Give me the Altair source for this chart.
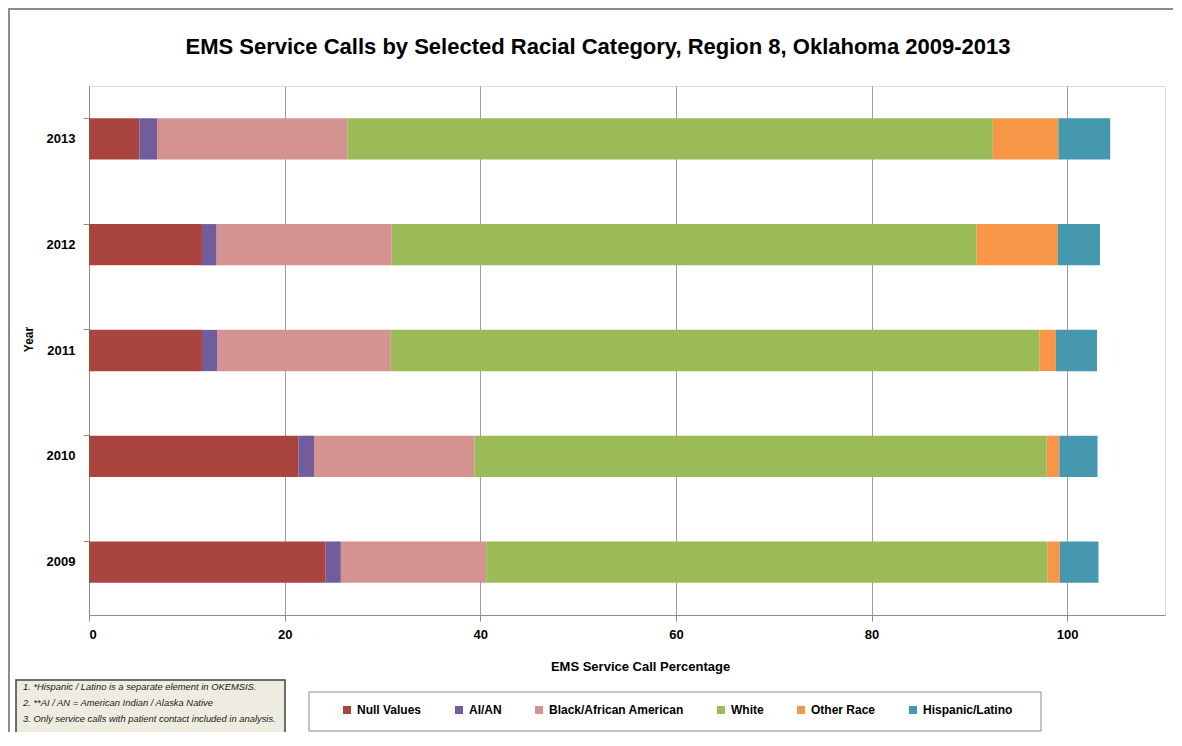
import altair as alt
import pandas as pd

# ---- data ----
years = ["2009", "2010", "2011", "2012", "2013"]
categories = ["Null Values", "AI/AN", "Black/African American", "White", "Other Race", "Hispanic/Latino"]
null_values = [24.2, 21.4, 11.55, 11.55, 5.15]
ai_an = [1.55, 1.6, 1.6, 1.5, 1.8]
black = [14.85, 16.4, 17.7, 17.9, 19.45]
white = [57.4, 58.5, 66.3, 59.8, 66.0]
other_race = [1.25, 1.3, 1.7, 8.3, 6.7]
hispanic = [3.95, 3.9, 4.2, 4.3, 5.3]
colors = ["#A9443F", "#715D9B", "#D49391", "#9BBB59", "#F79646", "#4598AE"]
x_ticks = [0, 20, 40, 60, 80, 100]
notes = [
    "1. *Hispanic / Latino is a separate element in OKEMSIS.",
    "2.  **AI / AN = American Indian / Alaska Native",
    "3.  Only service calls with patient contact included in analysis.",
]
title_text = "EMS Service Calls by Selected Racial Category, Region 8, Oklahoma 2009-2013"

series = [null_values, ai_an, black, white, other_race, hispanic]
rows = []
for ci, (cat, vals) in enumerate(zip(categories, series)):
    for y, v in zip(years, vals):
        rows.append({"Year": y, "Category": cat, "Value": v, "idx": ci})
df = pd.DataFrame(rows)

FONT = "Liberation Sans, Arial, sans-serif"
W, H = 1076, 529

bars = alt.Chart(df).mark_bar().encode(
    x=alt.X("sum(Value):Q",
            scale=alt.Scale(domain=[0, 110], nice=False, zero=True),
            axis=alt.Axis(values=x_ticks, title="EMS Service Call Percentage",
                          grid=True, gridColor="#9E9E9E", domainColor="#8C8C8C",
                          tickColor="#8C8C8C", tickSize=6, labelPadding=7,
                          labelFont=FONT, labelFontSize=13, labelFontWeight="bold",
                          labelColor="#000000", titleFont=FONT, titleFontSize=13,
                          titleFontWeight="bold", titleColor="#000000",
                          titlePadding=19, titleX=551)),
    y=alt.Y("Year:N", sort=["2013", "2012", "2011", "2010", "2009"],
            scale=alt.Scale(paddingInner=0.61, paddingOuter=0.305),
            axis=alt.Axis(title="Year", bandPosition=0, grid=False,
                          domainColor="#8C8C8C", tickColor="#8C8C8C", tickSize=6,
                          labelPadding=8, labelFont=FONT, labelFontSize=13,
                          labelFontWeight="bold", labelColor="#000000",
                          titleFont=FONT, titleFontSize=12,
                          titleFontWeight="bold", titleColor="#000000",
                          titleX=-54, titleY=253)),
    color=alt.Color("Category:N",
                    scale=alt.Scale(domain=categories, range=colors),
                    legend=alt.Legend(orient="none", legendX=252, legendY=618,
                                      direction="horizontal", columns=6, title=None,
                                      symbolType="square", symbolSize=64,
                                      symbolStrokeWidth=0, labelOffset=4,
                                      columnPadding=31, padding=0, labelLimit=0,
                                      labelFont=FONT, labelFontSize=12,
                                      labelFontWeight="bold", labelColor="#000000")),
    order=alt.Order("idx:Q", sort="ascending"),
)

one = pd.DataFrame({"k": [0]})

title_mark = alt.Chart(one).mark_text(
    align="center", baseline="alphabetic", font=FONT, fontSize=22, fontWeight="bold",
    color="#000000").encode(x=alt.value(509), y=alt.value(-32), text=alt.value(title_text))

legend_box = alt.Chart(one).mark_rect(fill="white", stroke="#8C8C8C", strokeWidth=1).encode(
    x=alt.value(220), x2=alt.value(952), y=alt.value(606), y2=alt.value(645))

notes_box = alt.Chart(one).mark_rect(fill="#EEECE1", stroke="#404040", strokeWidth=1.5).encode(
    x=alt.value(-73), x2=alt.value(196), y=alt.value(594), y2=alt.value(647))

notes_text = alt.Chart(one).mark_text(
    align="left", baseline="middle", font=FONT, fontSize=9.4, fontStyle="italic",
    lineHeight=16, color="#1A1A1A").encode(
    x=alt.value(-66), y=alt.value(601), text=alt.value(notes))

frame_left = alt.Chart(one).mark_rule(color="#8C8C8C", strokeWidth=2).encode(
    x=alt.value(-80), y=alt.value(-78), y2=alt.value(650))
frame_top = alt.Chart(one).mark_rule(color="#8C8C8C", strokeWidth=2).encode(
    x=alt.value(-81), x2=alt.value(1100), y=alt.value(-77))

chart = alt.layer(frame_left, frame_top, title_mark, bars, legend_box, notes_box, notes_text).properties(
    width=W, height=H,
    padding={"left": 81, "top": 78, "right": 8, "bottom": 117},
    autosize=alt.AutoSizeParams(type="none"),
).configure_view(stroke="#8C8C8C", strokeWidth=1).configure(background="white")

chart.save("out.html", embed_options={"renderer": "svg", "actions": False})
